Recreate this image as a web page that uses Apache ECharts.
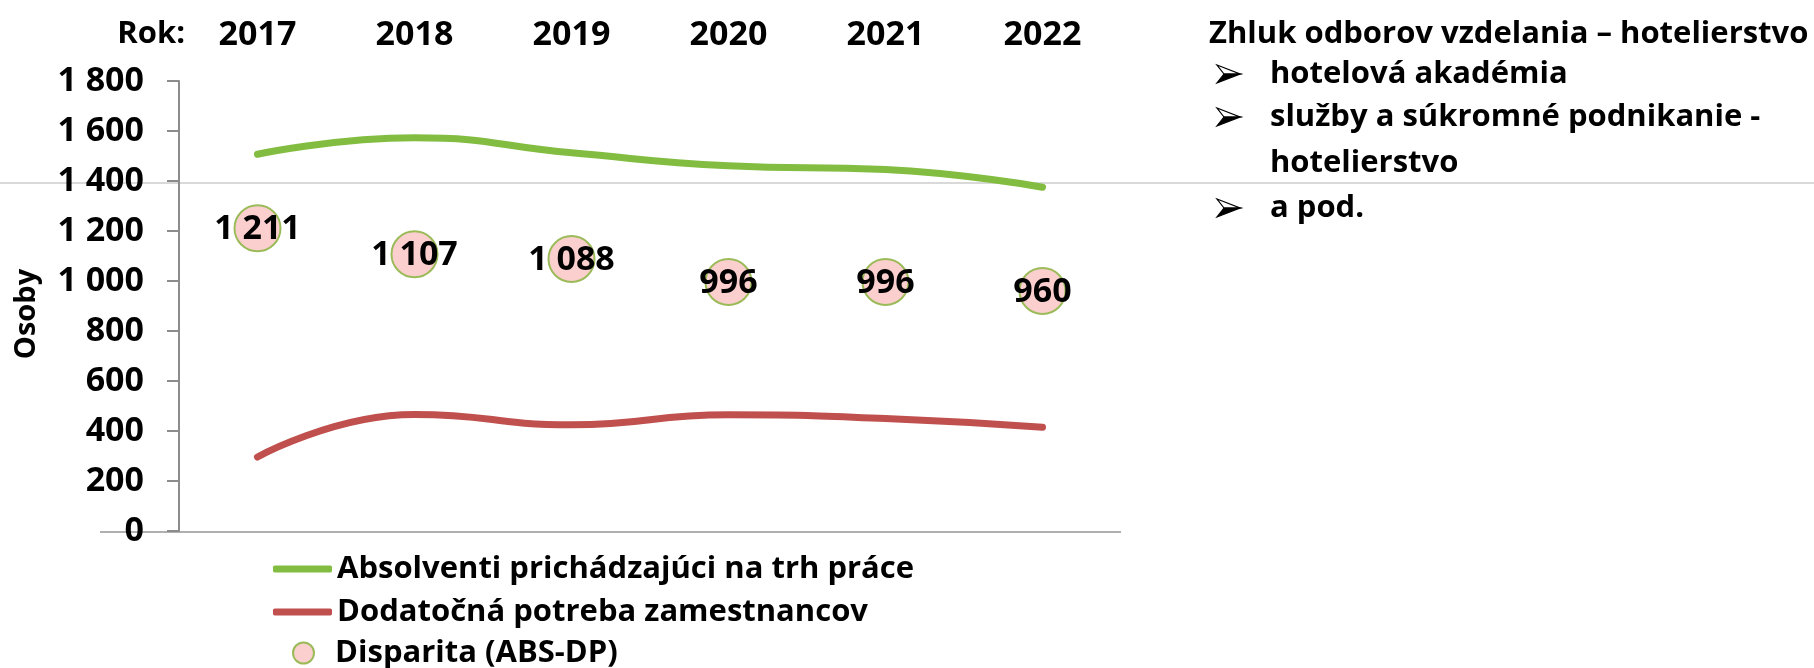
<!DOCTYPE html>
<html>
<head>
<meta charset="utf-8">
<script src="https://cdn.jsdelivr.net/npm/echarts@6/dist/echarts.min.js"></script>
<style>
  html, body { margin: 0; padding: 0; background: #fff; }
  #main { width: 1814px; height: 668px; }
</style>
</head>
<body>
<div id="main"></div>
<script>
// údaje z grafu
var roky = ["2017", "2018", "2019", "2020", "2021", "2022"];
var absolventi = [1507, 1573, 1513, 1461, 1446, 1375];
var potreba = [296, 466, 425, 465, 450, 415];
var disparita = [1211, 1107, 1088, 996, 996, 960];
var yTicks = [0, 200, 400, 600, 800, 1000, 1200, 1400, 1600, 1800];
var odrazky = ["hotelová akadémia", "služby a súkromné podnikanie -", "hotelierstvo", "a pod."];

var FONT = "'Open Sans'";
var GREEN = "#82bd41";
var RED = "#c0504d";
var PINK = "#fccfcf";
var RING = "#9bbb59";

// 1 800 -> medzera ako oddeľovač tisícov
function fmt(v) {
  return String(v).replace(/\B(?=(\d{3})+(?!\d))/g, " ");
}

// šípka odrážky (ako Wingdings)
function sipka(x, y) {
  return {
    type: "group",
    x: x,
    y: y - 9,
    children: [
      {
        type: "polygon",
        shape: { points: [[0, 0], [23, 9], [7, 9]] },
        style: { fill: "#fff", stroke: "#000", lineWidth: 1.2 }
      },
      {
        type: "polygon",
        shape: { points: [[7, 9], [23, 9], [0, 18]] },
        style: { fill: "#000", stroke: "#000", lineWidth: 1.2 }
      }
    ]
  };
}

function text(x, y, s, size) {
  return {
    type: "text",
    x: x,
    y: y,
    style: {
      text: s,
      font: "bold " + size + "px " + FONT,
      fill: "#000",
      verticalAlign: "middle"
    }
  };
}

var myChart = echarts.init(document.getElementById("main"));

var graphic = [
  {
    // deliaca čiara zo slajdu
    type: "line",
    z: -1,
    shape: { x1: 0, y1: 183, x2: 1814, y2: 183 },
    style: { stroke: "#d9d9d9", lineWidth: 2 }
  },
  {
    type: "line",
    z: -1,
    shape: { x1: 100, y1: 532, x2: 1121, y2: 532 },
    style: { stroke: "#b0b0b0", lineWidth: 2 }
  },
  {
    type: "text",
    x: 185,
    y: 34,
    style: { text: "Rok:", font: "bold 31px " + FONT, fill: "#000", align: "right", verticalAlign: "middle" }
  },
  text(1209, 34, "Zhluk odborov vzdelania – hotelierstvo", 31),
  sipka(1217, 74),
  text(1270, 74, odrazky[0], 31),
  sipka(1217, 117),
  text(1270, 117, odrazky[1], 31),
  text(1270, 163, odrazky[2], 31),
  sipka(1217, 208),
  text(1270, 208, odrazky[3], 31)
];

var option = {
  animation: false,
  textStyle: { fontFamily: FONT, fontWeight: "bold", color: "#000" },
  grid: { left: 179, top: 81, width: 942, height: 450 },
  xAxis: [
    {
      // spodná os - poloha bodov
      type: "category",
      data: roky,
      position: "bottom",
      axisLine: { show: false },
      axisTick: { show: false },
      axisLabel: { show: false }
    },
    {
      // roky hore
      type: "category",
      data: roky,
      position: "top",
      axisLine: { show: false },
      axisTick: { show: false },
      axisLabel: {
        margin: 29,
        fontFamily: FONT,
        fontWeight: "bold",
        fontSize: 34,
        color: "#000"
      }
    }
  ],
  yAxis: {
    type: "value",
    min: yTicks[0],
    max: yTicks[yTicks.length - 1],
    interval: yTicks[1] - yTicks[0],
    name: "Osoby",
    nameLocation: "middle",
    nameGap: 138,
    nameRotate: 90,
    nameTextStyle: { fontFamily: FONT, fontWeight: "bold", fontSize: 29, color: "#000", padding: [0, 16, 0, 0] },
    axisLine: { show: true, lineStyle: { color: "#8c8c8c", width: 2 } },
    axisTick: { show: true, length: 12, lineStyle: { color: "#8c8c8c", width: 2 } },
    splitLine: { show: false },
    axisLabel: {
      margin: 35,
      fontFamily: FONT,
      fontWeight: "bold",
      fontSize: 34,
      color: "#000",
      formatter: fmt
    }
  },
  legend: [
    {
      orient: "vertical",
      left: 273,
      top: 551,
      padding: 0,
      itemWidth: 59,
      itemHeight: 7,
      itemGap: 7,
      icon: "roundRect",
      textStyle: { fontFamily: FONT, fontWeight: "bold", fontSize: 31, lineHeight: 36, color: "#000" },
      data: [
        { name: "Absolventi prichádzajúci na trh práce", itemStyle: { color: GREEN } },
        { name: "Dodatočná potreba zamestnancov", itemStyle: { color: RED } }
      ]
    },
    {
      orient: "vertical",
      left: 292,
      top: 635,
      padding: 0,
      itemWidth: 21,
      itemHeight: 21,
      icon: "circle",
      // kruh je vľavo, text odsadený medzerami
      formatter: "  {name}",
      textStyle: { fontFamily: FONT, fontWeight: "bold", fontSize: 31, lineHeight: 36, color: "#000" },
      data: [
        {
          name: "Disparita (ABS-DP)",
          itemStyle: { color: PINK, borderColor: RING, borderWidth: 2 }
        }
      ]
    }
  ],
  graphic: graphic,
  series: [
    {
      name: "Absolventi prichádzajúci na trh práce",
      type: "line",
      smooth: 0.5,
      data: absolventi,
      symbol: "none",
      lineStyle: { color: GREEN, width: 7, cap: "round" },
      itemStyle: { color: GREEN }
    },
    {
      name: "Dodatočná potreba zamestnancov",
      type: "line",
      smooth: 0.5,
      data: potreba,
      symbol: "none",
      lineStyle: { color: RED, width: 7, cap: "round" },
      itemStyle: { color: RED }
    },
    {
      name: "Disparita (ABS-DP)",
      type: "scatter",
      data: disparita,
      symbolSize: 46,
      itemStyle: { color: PINK, borderColor: RING, borderWidth: 2, opacity: 1 },
      label: {
        show: true,
        position: "inside",
        offset: [0, 1],
        fontFamily: FONT,
        fontWeight: "bold",
        fontSize: 34,
        color: "#000",
        formatter: function (p) { return fmt(p.value); }
      },
      z: 3
    }
  ]
};

myChart.setOption(option);
</script>
</body>
</html>
